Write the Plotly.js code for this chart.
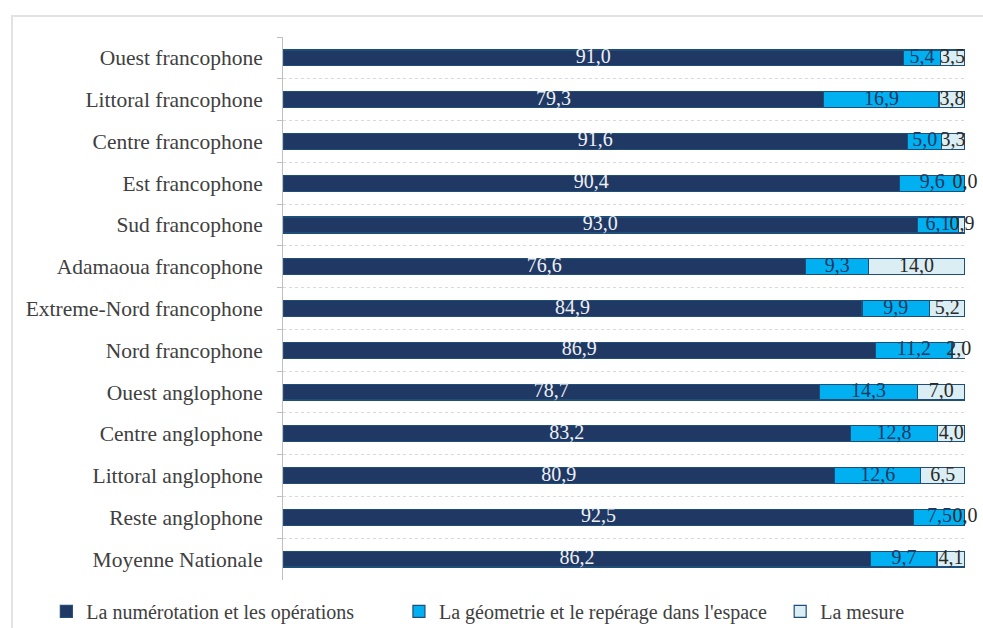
<!DOCTYPE html>
<html><head><meta charset="utf-8">
<script src="https://cdn.plot.ly/plotly-3.0.1.min.js"></script>
<style>
html,body{margin:0;padding:0;background:#fff;}
#frame{position:absolute;left:11px;top:15px;width:980px;height:620px;border-left:2px solid #e2e2e2;border-top:2px solid #e2e2e2;}
#chart{position:absolute;left:0;top:0;width:983px;height:628px;}
</style></head>
<body>
<div id="frame"></div>
<div id="chart"></div>
<script>
const categories = ["Ouest francophone","Littoral francophone","Centre francophone","Est francophone","Sud francophone","Adamaoua francophone","Extreme-Nord francophone","Nord francophone","Ouest anglophone","Centre anglophone","Littoral anglophone","Reste anglophone","Moyenne Nationale"];
const numeration = [91.0,79.3,91.6,90.4,93.0,76.6,84.9,86.9,78.7,83.2,80.9,92.5,86.2];
const geometrie = [5.4,16.9,5.0,9.6,6.1,9.3,9.9,11.2,14.3,12.8,12.6,7.5,9.7];
const mesure = [3.5,3.8,3.3,0.0,0.9,14.0,5.2,2.0,7.0,4.0,6.5,0.0,4.1];
const seriesNames = ["La numérotation et les opérations","La géometrie et le repérage dans l'espace","La mesure"];

const fmt = v => v.toFixed(1).replace('.', ',');
const colors = ["#1f3864","#00b0f0","#daeef3"];
const textColors = ["#eef0f4","#1f3864","#2a2a2a"];
const legendIds = ['legend','legend2','legend3'];
const series = [numeration, geometrie, mesure];
const data = [];
series.forEach((vals, i) => {
  data.push({
    type: 'bar', orientation: 'h',
    y: categories, x: vals, name: seriesNames[i], legend: legendIds[i],
    marker: {color: colors[i], line: {color: '#1f4e79', width: 1.2}},
    hoverinfo: 'none'
  });
});
// data labels centred on each segment (positions derived from the values)
series.forEach((vals, i) => {
  const centers = vals.map((v, k) => {
    let start = 0;
    for (let j = 0; j < i; j++) start += series[j][k];
    return start + v / 2;
  });
  data.push({
    type: 'scatter', mode: 'text', x: centers, y: categories,
    text: vals.map(fmt), textposition: 'middle center', cliponaxis: false,
    textfont: {family: 'Liberation Serif, serif', size: 20, color: textColors[i]},
    showlegend: false, hoverinfo: 'none'
  });
});

const legFont = {family: 'Liberation Serif, serif', size: 20, color: '#404040'};
const legBase = {orientation: 'h', xanchor: 'left', y: -0.022, yanchor: 'top', font: legFont, bgcolor: 'rgba(0,0,0,0)'};
const layout = {
  width: 983, height: 628,
  paper_bgcolor: 'rgba(0,0,0,0)', plot_bgcolor: 'rgba(0,0,0,0)',
  margin: {l: 283, r: 18, t: 37, b: 48, autoexpand: false},
  barmode: 'stack', bargap: 0.62,
  showlegend: true,
  legend: Object.assign({}, legBase, {x: -0.347}),
  legend2: Object.assign({}, legBase, {x: 0.170}),
  legend3: Object.assign({}, legBase, {x: 0.729}),
  xaxis: {range: [0, 100], showticklabels: false, showgrid: false, zeroline: false, showline: false, fixedrange: true},
  yaxis: {type: 'category', range: [12.5, -0.5], autorange: false, tickson: 'boundaries', ticks: 'outside', ticklen: 5, tickcolor: '#bfbfbf',
    showline: true, linecolor: '#bfbfbf', linewidth: 1,
    showgrid: true, gridcolor: '#d9d9d9', griddash: '3px,3px', gridwidth: 1,
    ticklabelstandoff: 15,
    tickfont: {family: 'Liberation Serif, serif', size: 21.5, color: '#404040'}}
};
Plotly.newPlot('chart', data, layout, {displayModeBar: false, staticPlot: true});
</script>
</body></html>
